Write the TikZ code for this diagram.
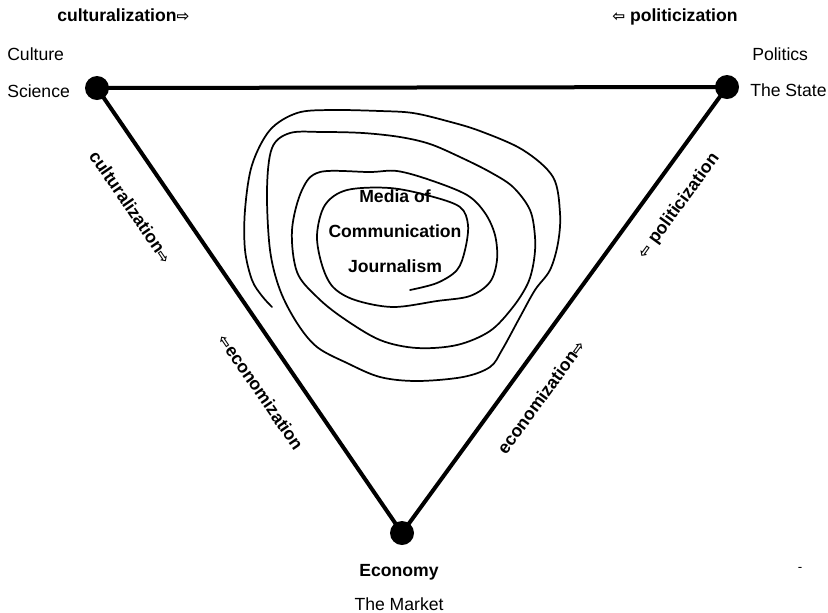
\documentclass[tikz,border=0pt]{standalone}
\usepackage{fontspec}
\setmainfont{Liberation Sans}
\newfontfamily\arrowfont{DejaVu Sans}
\newcommand{\rarr}{{\arrowfont\fontsize{11.5}{12}\selectfont ⇨}}
\newcommand{\larr}{{\arrowfont\fontsize{11.5}{12}\selectfont ⇦}}

\begin{document}
\begin{tikzpicture}[x=0.75pt, y=-0.75pt,
  side/.style={line width=3pt, line join=round},
  swirl/.style={line width=1.3pt, line join=round, line cap=round},
  pole/.style={inner sep=0pt, font=\fontsize{13.2}{16}\selectfont},
  force/.style={inner sep=0pt, font=\fontsize{13.2}{16}\selectfont\bfseries}]
\useasboundingbox (0,0) rectangle (828,612);
% the three poles
\coordinate (cs) at (97,88);
\coordinate (ps) at (727,87);
\coordinate (ec) at (402,533);
\draw[side] (cs) -- (ps) -- (ec) -- cycle;
\fill (cs) circle (12);
\fill (ps) circle (12);
\fill (ec) circle (12);
\node[pole, anchor=base west] (culture) at (7,60) {Culture};
\node[pole, anchor=base west] (science) at (7,97) {Science};
\node[pole, anchor=base west] (politics) at (752,60) {Politics};
\node[pole, anchor=base west] (state) at (750,96) {The State};
\node[force, anchor=base] (economy) at (399,576) {Economy};
\node[pole, anchor=base] (market) at (399,610) {The Market};
\node[pole] (tick) at (800,569) {\fontsize{10}{10}\selectfont -};
% pulls along the sides
\node[force, anchor=base west] (cultop) at (57,21.5) {culturalization\rarr};
\node[force, anchor=base west] (poltop) at (612,21) {\larr\ politicization};
\node[force, rotate=-55.6] (culside) at (131,207) {culturalization\rarr};
\node[force, rotate=-55.6] (ecoleft) at (261,392) {\larr economization};
\node[force, rotate=53.9] (polside) at (679,206) {\larr\ politicization};
\node[force, rotate=53.9] (ecoright) at (541,397) {economization\rarr};
% media in the middle
\draw[swirl] plot[smooth, tension=0.55] coordinates {
  (410,290) (437,283) (457,270) (465,250) (468,225) (460,207) (430,196)
  (390,188) (347,190) (325,205) (317,235) (322,265) (333,287) (355,300)
  (393,307) (437,301) (470,296) (490,282) (497,260) (495,235) (485,213)
  (467,195) (430,180) (397,171) (370,172) (320,172) (302,190) (292,230)
  (297,272) (317,297) (343,318) (380,340) (417,348) (457,345) (490,331)
  (513,307) (528,283) (534,260) (535,237) (530,210) (513,187) (490,172)
  (460,157) (430,144) (400,137) (363,133) (323,132) (290,133) (272,148)
  (267,190) (270,250) (280,290) (297,323) (317,347) (347,363) (380,377)
  (417,381) (463,377) (490,367) (502,350) (520,317) (535,290) (550,270)
  (558,243) (560,213) (553,177) (523,150) (480,131) (447,121) (413,113)
  (380,111) (330,110) (297,113) (270,130) (252,165) (245,210) (245,250)
  (252,280) (262,296) (272,307)};
\node[force, anchor=base] (media) at (395,202) {Media of};
\node[force, anchor=base] (comm) at (395,237) {Communication};
\node[force, anchor=base] (journ) at (395,272) {Journalism};
\end{tikzpicture}
\end{document}
